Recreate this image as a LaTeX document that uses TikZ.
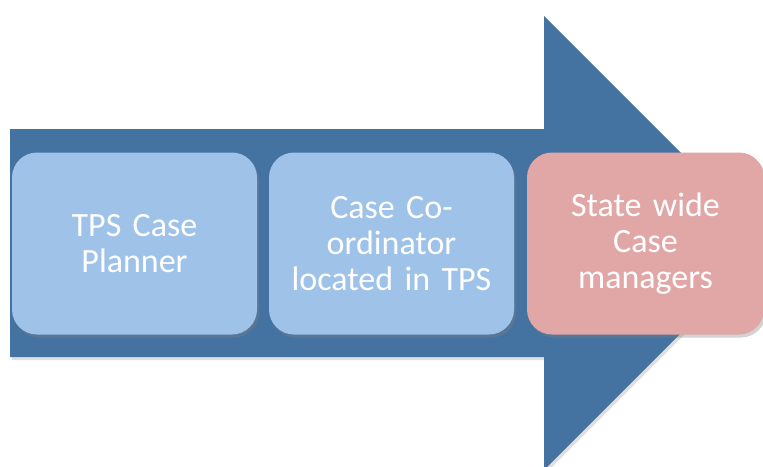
\documentclass[tikz,border=0pt]{standalone}
\usepackage{fontspec}
\setmainfont{Carlito}
\usetikzlibrary{shadows}
\definecolor{arrowblue}{HTML}{4573A1}
\definecolor{stepblue}{HTML}{9FC2E8}
\definecolor{steppink}{HTML}{E0A7A6}
\begin{document}
\begin{tikzpicture}[x=1pt, y=-1pt,
    stepbox/.style = {rounded corners=25pt, minimum width=245pt, minimum height=182pt,
        text width=230pt, align=center, text=white, inner sep=0pt,
        font=\fontsize{34pt}{36pt}\selectfont,
        drop shadow={opacity=0.35, shadow xshift=2pt, shadow yshift=-3pt}}]
\useasboundingbox (0,0) rectangle (763,466);
\clip (0,0) rectangle (763,466);

% big arrow behind the steps
\fill[arrowblue, drop shadow={opacity=0.25, shadow xshift=2pt, shadow yshift=-3pt}]
    (10,129) -- (544,129) -- (544,16) -- (771,243) -- (544,470) -- (544,357) -- (10,357) -- cycle;

\node[stepbox, fill=stepblue] (planner) at (134.5,243.5) {TPS Case\\Planner};
\node[stepbox, fill=stepblue] (coord) at (391.5,243.5) {Case Co-\\ordinator\\located in TPS};
\node[stepbox, fill=steppink, minimum width=237pt] (managers) at (645.5,243.5) {State wide\\Case\\managers};

\end{tikzpicture}
\end{document}
